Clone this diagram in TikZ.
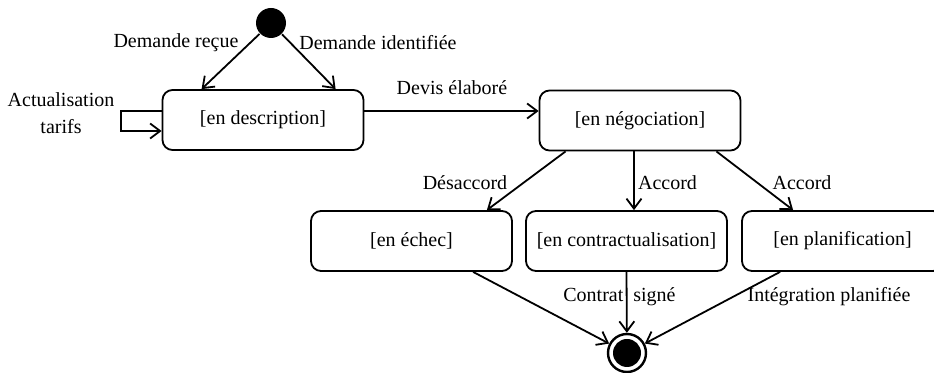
\documentclass[tikz,border=0pt]{standalone}
\usepackage{fontspec}
\setmainfont{Liberation Serif}
\usepackage{tikz}
\usetikzlibrary{arrows.meta,positioning,calc}

\begin{document}
\begin{tikzpicture}[x=0.5pt,y=-0.5pt,
  font=\fontsize{10}{13.5}\selectfont, line width=0.9pt,
  etat/.style={draw,rounded corners=5pt,minimum width=100.5pt,minimum height=30pt,inner sep=0pt},
  tr/.style={-{Straight Barb[length=5pt,width=7.5pt,line width=0.9pt]}},
  lbl/.style={inner sep=0pt}]
  \clip (0,0) rectangle (934,373);
  \node[circle,fill,inner sep=0pt,minimum size=15pt] (init) at (271,23) {};
  \node[etat] (desc) at (263,120) {[en description]};
  \node[etat] (nego) at (640,120.5) {[en négociation]};
  \node[etat] (echec) at (411.5,241) {[en échec]};
  \node[etat] (contr) at (626.5,241) {[en contractualisation]};
  \node[etat] (plan) at (842.5,241) {[en planification]};
  \node[circle,draw,line width=1.2pt,inner sep=0pt,minimum size=19pt] (fin) at (627,353) {};
  \fill (fin) circle (7pt);
  \draw[tr] (init) -- ($(desc.north west)+(40,0)$);
  \draw[tr] (init) -- ($(desc.north west)+(174,0)$);
  \draw[tr] ($(desc.west)+(0,-9)$) -- ++(-41,0) |- ($(desc.west)+(0,11)$);
  \draw[tr] ($(desc.east)+(0,-9)$) -- ($(nego.west)+(0,-9.5)$);
  \draw[tr] ($(nego.south west)+(27,0)$) -- ($(echec.north east)+(-26,0)$);
  \draw[tr] ($(nego.south)+(-6,0)$) coordinate (a) -- (a |- contr.north);
  \draw[tr] ($(nego.south east)+(-25,0)$) -- ($(plan.north west)+(52,0)$);
  \draw[tr] ($(echec.south west)+(163,0)$) -- (fin);
  \draw[tr] (contr.south) -- (fin);
  \draw[tr] ($(plan.south west)+(39,0)$) -- (fin);
  \node[lbl] (l1) at (176,43) {Demande reçue};
  \node[lbl] (l2) at (378,43) {Demande identifiée};
  \node[lbl,align=center] (l3) at (61,113) {Actualisation\\tarifs};
  \node[lbl] (l4) at (452,88) {Devis élaboré};
  \node[lbl] (l5) at (465,183) {Désaccord};
  \node[lbl] (l6) at (667.5,183) {Accord};
  \node[lbl] (l7) at (802,183) {Accord};
  \node[lbl] (l8) at (619.5,297) {Contrat\hspace{5pt}signé};
  \node[lbl] (l9) at (829,297) {Intégration planifiée};
\end{tikzpicture}
\end{document}
